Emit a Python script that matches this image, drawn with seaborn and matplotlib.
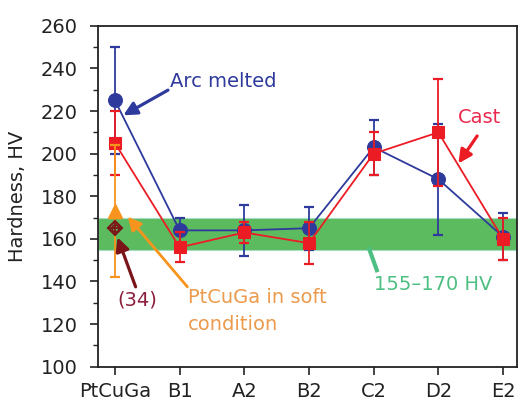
import numpy as np
import pandas as pd
import matplotlib
matplotlib.use("Agg")
import matplotlib.pyplot as plt
from matplotlib.ticker import MultipleLocator
import seaborn as sns

# Vickers hardness of the alloy series
alloys = ["PtCuGa", "B1", "A2", "B2", "C2", "D2", "E2"]
arc_hv = [225, 164, 164, 165, 203, 188, 161]
arc_err = [25, 6, 12, 10, 13, 26, 11]
cast_hv = [205, 156, 163, 158, 200, 210, 160]
cast_err = [15, 7, 5, 10, 10, 25, 10]

# PtCuGa reference values
soft_hv = [173]
soft_err = [31]
ref34_hv = [165]

# target hardness window
band_lo, band_hi = 155, 170

BLUE = "#2E3A9C"
RED = "#EC1C24"
ORANGE = "#F7941D"
BROWN = "#7A1418"
GREEN = "#5DBB5F"
GREEN_TXT = "#4EBF82"

sns.set_theme(style="ticks")
plt.rcParams["font.family"] = ["DejaVu Sans"]
plt.rcParams["axes.edgecolor"] = "#222222"
plt.rcParams["xtick.color"] = "#222222"
plt.rcParams["ytick.color"] = "#222222"

pos = np.arange(len(alloys))
df = pd.DataFrame({"pos": pos, "arc": arc_hv, "cast": cast_hv})

fig = plt.figure(figsize=(5.19, 4.03), dpi=100)
ax = fig.add_axes([0.189, 0.090, 0.807, 0.846])

ax.axhspan(band_lo, band_hi, facecolor=GREEN, edgecolor="#A4DCC4",
           linewidth=0.8, zorder=0)

# arc melted series
ax.errorbar(pos, arc_hv, yerr=arc_err, fmt="none", ecolor=BLUE,
            elinewidth=1.3, capsize=3.6, capthick=1.6, zorder=2)
sns.lineplot(data=df, x="pos", y="arc", ax=ax, color=BLUE, lw=1.3,
             marker="o", markersize=10, markeredgecolor=BLUE,
             sort=False, zorder=3)

# cast series
ax.errorbar(pos, cast_hv, yerr=cast_err, fmt="none", ecolor=RED,
            elinewidth=1.3, capsize=3.6, capthick=1.6, zorder=4)
sns.lineplot(data=df, x="pos", y="cast", ax=ax, color=RED, lw=1.3,
             marker="s", markersize=8.5, markeredgecolor=RED,
             sort=False, zorder=5)

# PtCuGa in soft condition
ax.errorbar(pos[:1], soft_hv, yerr=soft_err, fmt="^", color=ORANGE,
            ecolor=ORANGE, markersize=9.5, elinewidth=1.3, capsize=3.6,
            capthick=1.6, zorder=6)

# literature value (34)
ax.plot(pos[:1], ref34_hv, marker="D", markersize=7.5, mfc="none",
        mec=BROWN, mew=1.5, ls="none", zorder=7)
ax.plot(pos[:1], ref34_hv, marker="o", markersize=5, mfc="none",
        mec=BROWN, mew=1.2, ls="none", zorder=7)
ax.plot(pos[:1], ref34_hv, marker="+", markersize=9, mec=BROWN,
        mew=1.3, ls="none", zorder=7)

ax.set_xlim(-0.26, 6.215)
ax.set_ylim(100, 260)
ax.set_xticks(pos)
ax.set_xticklabels(alloys)
ax.yaxis.set_major_locator(MultipleLocator(20))
ax.yaxis.set_minor_locator(MultipleLocator(10))
ax.tick_params(axis="both", which="major", direction="out", length=6,
               width=1.2, labelsize=14, labelcolor="#222222")
ax.tick_params(axis="y", which="major", pad=8.5)
ax.tick_params(axis="x", which="major", pad=5)
ax.tick_params(axis="y", which="minor", direction="out", length=3.5,
               width=1.0)
ax.tick_params(axis="x", which="minor", bottom=False)
for s in ax.spines.values():
    s.set_visible(True)
    s.set_linewidth(1.3)
ax.set_xlabel("")
ax.set_ylabel("Hardness, HV", fontsize=14, color="#222222", labelpad=10)


def arrow(head, tail, color, lw=2.3):
    ax.annotate("", xy=head, xytext=tail, zorder=8,
                arrowprops=dict(arrowstyle="-|>", color=color, lw=lw,
                                mutation_scale=20, shrinkA=0, shrinkB=0))


arrow((0.13, 218.0), (0.82, 229.8), BLUE)
ax.text(0.85, 231.2, "Arc melted", color=BLUE, fontsize=14, va="baseline")

arrow((5.31, 195.4), (5.60, 208.3), RED)
ax.text(5.30, 214.2, "Cast", color="#EA2A4C", fontsize=14, va="baseline")

arrow((0.04, 160.7), (0.32, 137.5), BROWN)
ax.text(0.04, 128.9, "(34)", color="#8C1E3C", fontsize=14, va="baseline")

arrow((0.20, 170.4), (1.12, 137.5), ORANGE, lw=2.0)
ax.text(1.13, 129.7, "PtCuGa in soft", color="#EC9A4C", fontsize=14,
        va="baseline")
ax.text(1.13, 117.2, "condition", color="#EC9A4C", fontsize=14,
        va="baseline")

ax.plot([3.92, 4.06], [156.2, 144.4], color=GREEN_TXT, lw=3.0, zorder=8,
        solid_capstyle="butt")
ax.text(4.01, 136.0, "155\u2013170 HV", color=GREEN_TXT, fontsize=14,
        va="baseline")

fig.savefig("out.png", dpi=100)
